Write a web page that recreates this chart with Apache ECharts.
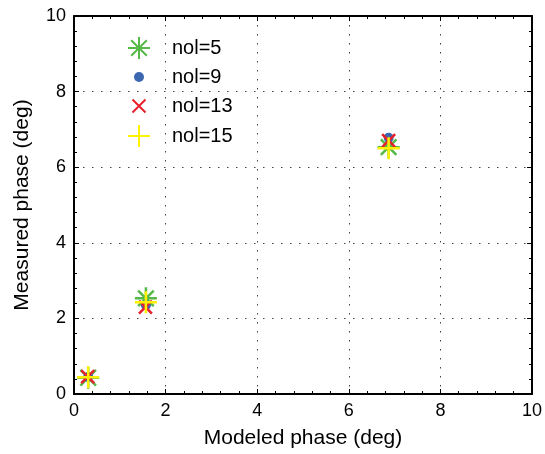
<!DOCTYPE html>
<html>
<head>
<meta charset="utf-8">
<script src="https://cdn.jsdelivr.net/npm/echarts@6/dist/echarts.min.js"></script>
<style>
  html, body { margin: 0; padding: 0; background: #fff; }
  #chart { width: 545px; height: 454px; }
</style>
</head>
<body>
<div id="chart"></div>
<script>
var seriesNames = ['nol=5', 'nol=9', 'nol=13', 'nol=15']
var nol5 = [[0.31, 0.43], [1.57, 2.53], [6.87, 6.53]]
var nol9 = [[0.31, 0.45], [1.57, 2.35], [6.87, 6.78]]
var nol13 = [[0.30, 0.46], [1.56, 2.30], [6.87, 6.70]]
var nol15 = [[0.31, 0.44], [1.57, 2.43], [6.87, 6.50]]
var xTicks = [0, 2, 4, 6, 8, 10]
var yTicks = [0, 2, 4, 6, 8, 10]

// all symbols live in a 22x22 box (the M corners keep the box the same size)
var BOX = 'M0,0M22,22'
var STAR = 'path://' + BOX + 'M11,0L11,22M0,11L22,11M3.2,3.2L18.8,18.8M18.8,3.2L3.2,18.8'
var DOT = 'path://' + BOX + 'M16,11A5,5,0,1,1,6,11A5,5,0,1,1,16,11Z'
var CROSS = 'path://' + BOX + 'M4.5,4.5L17.5,17.5M17.5,4.5L4.5,17.5'
var PLUS = 'path://' + BOX + 'M11,0L11,22M0,11L22,11'

var FONT = 'Liberation Sans'

var makeSeries = function (name, data, symbol, color, filled) {
    return {
        name: name,
        type: 'scatter',
        data: data,
        symbol: symbol,
        symbolSize: 22,
        itemStyle: filled ? {color: color, borderWidth: 0, opacity: 1} : {color: 'transparent', borderColor: color, borderWidth: 2.5, opacity: 1},
        emphasis: {disabled: true}
    }
}

var axisCommon = function (pos, show) {
    return {
        type: 'value',
        position: pos,
        min: 0,
        max: 10,
        interval: 2,
        axisLine: {show: true, onZero: false, lineStyle: {color: '#000', width: 2}},
        axisTick: {show: true, inside: true, length: 5, lineStyle: {color: '#000', width: 1}},
        minorTick: {show: true, splitNumber: 5, length: 3, lineStyle: {color: '#000', width: 1}},
        axisLabel: {show: show, color: '#000', fontFamily: FONT, fontSize: 18, margin: 8},
        splitLine: {show: false}
    }
}

var xBottom = axisCommon('bottom', true)
xBottom.name = 'Modeled phase (deg)'
xBottom.nameLocation = 'middle'
xBottom.nameGap = 34
xBottom.nameTextStyle = {color: '#000', fontFamily: FONT, fontSize: 21}
xBottom.splitLine = {show: true, lineStyle: {color: '#444', type: [1.5, 7.5], width: 1}}
xBottom.axisLabel.formatter = function (v) { return xTicks.indexOf(v) >= 0 ? String(v) : '' }

var yLeft = axisCommon('left', true)
yLeft.name = 'Measured phase (deg)'
yLeft.nameLocation = 'middle'
yLeft.nameGap = 41
yLeft.nameTextStyle = {color: '#000', fontFamily: FONT, fontSize: 21}
yLeft.splitLine = {show: true, lineStyle: {color: '#444', type: [1.5, 7.5], width: 1}}
yLeft.axisLabel.formatter = function (v) { return yTicks.indexOf(v) >= 0 ? String(v) : '' }

var option = {
    backgroundColor: '#fff',
    animation: false,
    grid: {left: 74, right: 12, top: 16, bottom: 60, containLabel: false},
    legend: {
        orient: 'vertical',
        left: 122,
        top: 31,
        itemWidth: 56,
        itemHeight: 22,
        itemGap: 6,
        symbolKeepAspect: true,
        textStyle: {color: '#000', fontFamily: FONT, fontSize: 20},
        data: seriesNames
    },
    xAxis: [xBottom, axisCommon('top', false)],
    yAxis: [yLeft, axisCommon('right', false)],
    series: [
        makeSeries(seriesNames[0], nol5, STAR, '#55b947', false),
        makeSeries(seriesNames[1], nol9, DOT, '#3c67b1', true),
        makeSeries(seriesNames[2], nol13, CROSS, '#e8202b', false),
        makeSeries(seriesNames[3], nol15, PLUS, '#fff200', false)
    ]
}

echarts.init(document.getElementById('chart')).setOption(option)
</script>
</body>
</html>
